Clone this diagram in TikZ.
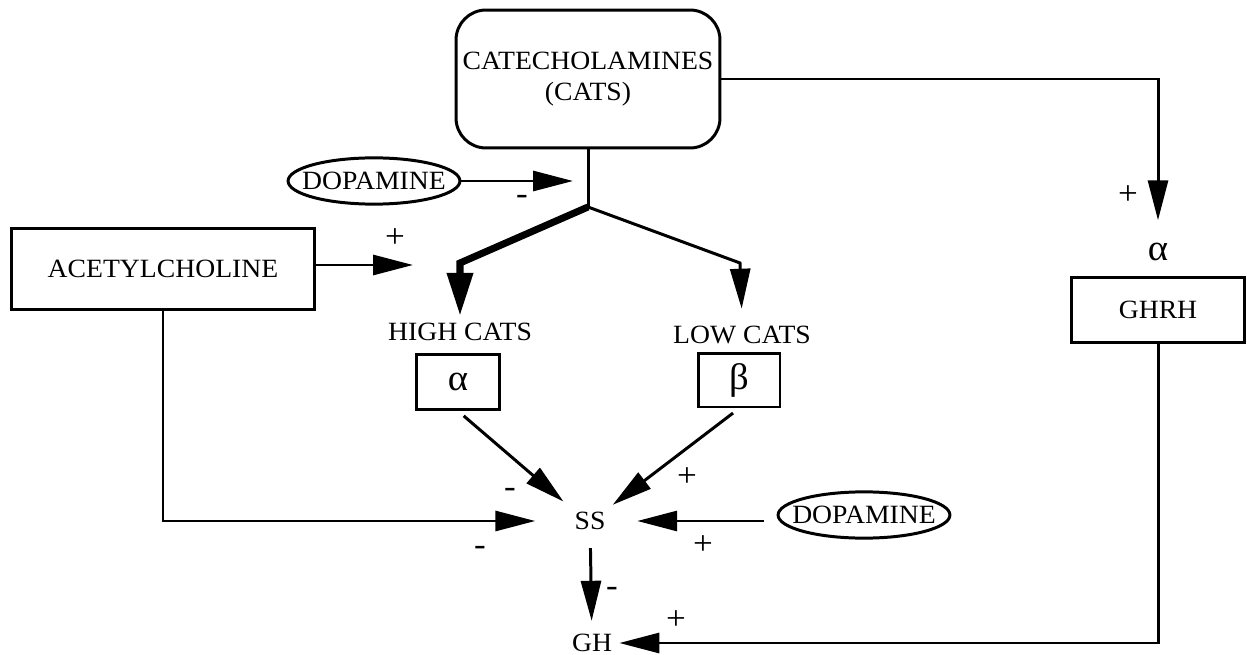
\documentclass[tikz,border=0pt]{standalone}
\usepackage{fontspec}
\setmainfont{Liberation Serif}[FakeStretch=1.05]
\usetikzlibrary{shapes.geometric,arrows.meta}

\begin{document}
\begin{tikzpicture}[x=0.02cm,y=-0.02cm,
    font=\fontsize{15}{18}\selectfont,
    line width=1.7pt,
    arr/.style={-{Triangle[length=0.8cm,width=0.4cm]}},
    bigarr/.style={-{Triangle[length=0.86cm,width=0.5cm]}},
    box/.style={draw,rectangle,inner sep=0pt},
    oval/.style={draw,ellipse,inner xsep=-0.22cm,inner ysep=0.15cm},
    sign/.style={font=\fontsize{19}{20}\selectfont,inner sep=0pt},
    greek/.style={font=\fontsize{21}{22}\selectfont}]
  \useasboundingbox (0,0) rectangle (1247,655);

  % boxes and labels
  \node[box,rounded corners=0.6cm,minimum width=5.28cm,minimum height=2.76cm,align=center] (cats) at (588,79) {CATECHOLAMINES\\(CATS)};
  \node[oval] (dopa1) at (374,181) {DOPAMINE};
  \node[box,minimum width=6.06cm,minimum height=1.64cm] (ach) at (163,269) {ACETYLCHOLINE};
  \node (hicats) at (460,332) {HIGH CATS};
  \node (locats) at (742,335) {LOW CATS};
  \node[box,greek,minimum width=1.66cm,minimum height=1.1cm] (hialpha) at (458,382) {α};
  \node[box,greek,minimum width=1.64cm,minimum height=1.08cm] (lobeta) at (739,380) {β};
  \node (ss) at (590,521) {SS};
  \node[oval] (dopa2) at (864,515) {DOPAMINE};
  \node (gh) at (592,643) {GH};
  \node[greek] (ghalpha) at (1158,252) {α};
  \node[box,minimum width=3.46cm,minimum height=1.3cm] (ghrh) at (1158,310) {GHRH};

  \coordinate (fork) at (588,207);
  \coordinate (dopaend) at (573,181);
  \coordinate (achend) at (413,265);
  \coordinate (hiturn) at (460,263);
  \coordinate (loturn) at (740,263);

  % connectors
  \draw (cats.south) -- (fork);
  \draw[arr] (dopa1) -- (dopaend);
  \draw[arr] (ach.east |- achend) -- (achend);
  \draw[bigarr,line width=4pt] (fork) -- (hiturn) -- (hicats.north);
  \draw[arr,shorten >=0.2cm] (fork) -- (loturn) -- (locats.north);
  \draw[arr,shorten <=0.15cm,shorten >=0.1cm] (hialpha.south) -- (ss.north west);
  \draw[arr,shorten <=0.15cm] (lobeta.south) -- (ss.north east);
  \draw[arr,shorten >=0.64cm] (ach.south) |- (ss.west);
  \draw[arr,shorten <=0.26cm,shorten >=0.49cm] (dopa2.west |- ss) -- (ss.east);
  \draw[arr,shorten <=0.22cm,shorten >=0.12cm] (ss) -- (gh);
  \draw[arr] (ghrh.south) |- (gh.east);
  \draw[arr,shorten >=0.31cm] (cats.east) -| (ghalpha.north);

  % signs
  \node[sign] (sdopa) at (522,200) {-};
  \node[sign] (sach) at (395,238) {+};
  \node[sign] (shi) at (510,493) {-};
  \node[sign] (sach2) at (480,551) {-};
  \node[sign] (slo) at (687,477) {+};
  \node[sign] (sdopa2) at (703,545) {+};
  \node[sign] (sss) at (612,592) {-};
  \node[sign] (sgh) at (676,620) {+};
  \node[sign] (sghrh) at (1128,195) {+};
\end{tikzpicture}
\end{document}
